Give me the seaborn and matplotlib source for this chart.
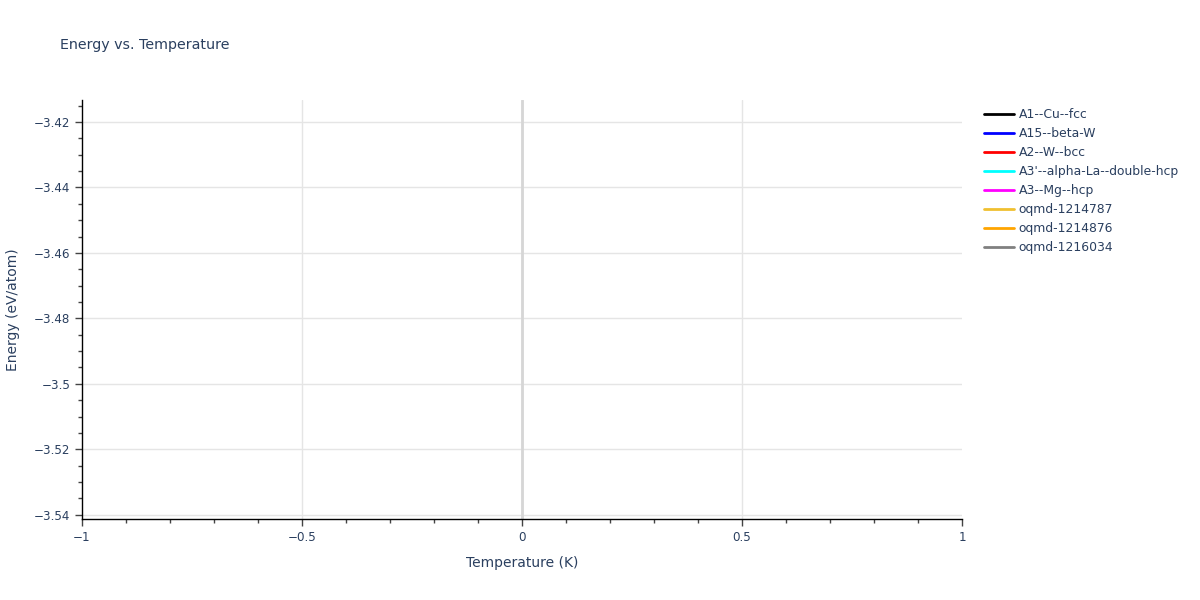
import matplotlib
matplotlib.use("Agg")
import matplotlib.pyplot as plt
from matplotlib.ticker import MultipleLocator
from matplotlib.lines import Line2D
import seaborn as sns
import pandas as pd

# Data (each structure has a single point at T = 0 K, so no visible line is drawn)
structures = ["A1--Cu--fcc", "A15--beta-W", "A2--W--bcc", "A3'--alpha-La--double-hcp",
              "A3--Mg--hcp", "oqmd-1214787", "oqmd-1214876", "oqmd-1216034"]
temperatures = [0, 0, 0, 0, 0, 0, 0, 0]
energies = [-3.512, -3.470, -3.5355, -3.509, -3.514, -3.419, -3.450, -3.490]
colors = ["black", "blue", "red", "cyan", "magenta", "#f0c030", "orange", "grey"]

df = pd.DataFrame({"Temperature (K)": temperatures,
                   "Energy (eV/atom)": energies,
                   "Structure": structures})

sns.set_theme(style="white")
plt.rcParams["font.family"] = ["DejaVu Sans"]
text_color = "#2a3f5f"

fig = plt.figure(figsize=(12, 6), dpi=100)
ax = fig.add_axes([82 / 1200, 1 - 519 / 600, 880 / 1200, 419 / 600])

sns.lineplot(data=df, x="Temperature (K)", y="Energy (eV/atom)", hue="Structure",
             hue_order=structures, palette=dict(zip(structures, colors)),
             ax=ax, legend=False, linewidth=2)

ax.set_xlim(-1, 1)
ax.set_ylim(-3.5413, -3.4133)

ax.xaxis.set_minor_locator(MultipleLocator(0.1))
ax.yaxis.set_minor_locator(MultipleLocator(0.005))

def fmt(v):
    if abs(v) < 1e-9:
        return "0"
    return f"{v:g}".replace("-", "\u2212")

xt = [-1, -0.5, 0, 0.5, 1]
ax.set_xticks(xt)
ax.set_xticklabels([fmt(v) for v in xt])
yt = [-3.54, -3.52, -3.50, -3.48, -3.46, -3.44, -3.42]
ax.set_yticks(yt)
ax.set_yticklabels([fmt(v) for v in yt])

ax.grid(True, which="major", color="#e5e5e5", linewidth=1)
xgl = ax.get_xgridlines()
xgl[0].set_visible(False)
xgl[-1].set_visible(False)
ax.axvline(0, color="#d6d6d6", linewidth=2, zorder=1)
ax.set_axisbelow(True)

for side in ["top", "right"]:
    ax.spines[side].set_visible(False)
for side in ["left", "bottom"]:
    ax.spines[side].set_color("black")
    ax.spines[side].set_linewidth(1)

ax.tick_params(axis="both", which="major", direction="out", length=5, width=1,
               color="#444444", labelsize=8.6, labelcolor=text_color, left=True, bottom=True)
ax.tick_params(axis="both", which="minor", direction="out", length=3, width=1,
               color="#444444", left=True, bottom=True)

ax.set_xlabel("Temperature (K)", fontsize=10, color=text_color, labelpad=9)
ax.set_ylabel("Energy (eV/atom)", fontsize=10, color=text_color, labelpad=10)

fig.text(60 / 1200, 1 - 45 / 600, "Energy vs. Temperature", fontsize=10.3,
         color=text_color, va="center", ha="left")

handles = [Line2D([0], [0], color=c, linewidth=2) for c in colors]
fig.legend(handles, structures, loc="upper left", bbox_to_anchor=(984 / 1200, 1 - 108 / 600),
           frameon=False, fontsize=8.9, labelcolor=text_color, handlelength=2.4,
           handletextpad=0.4, labelspacing=0.49, borderaxespad=0, borderpad=0)

fig.savefig("out.png", dpi=100)
